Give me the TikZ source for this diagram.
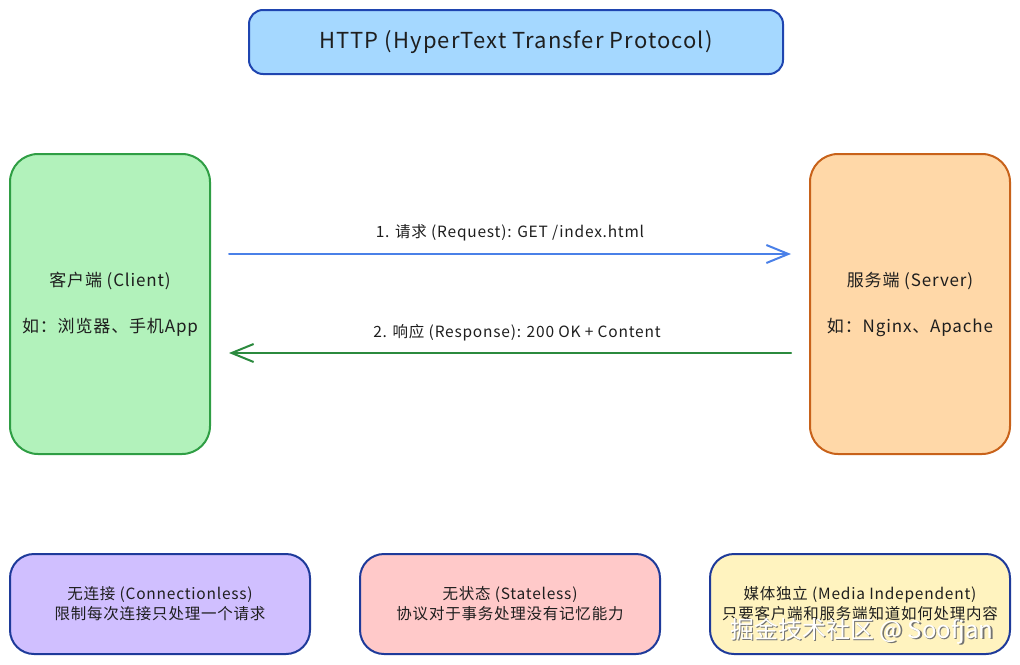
\documentclass[tikz,border=0pt]{standalone}
\usepackage{fontspec}
\setmainfont[LetterSpace=5]{Noto Sans CJK SC}
\newfontfamily\wmfont{Noto Sans CJK SC}
\usetikzlibrary{arrows.meta}
\definecolor{txt}{HTML}{1E1E1E}
\definecolor{titlefill}{HTML}{A5D8FF}
\definecolor{titledraw}{HTML}{1F45B0}
\definecolor{clientfill}{HTML}{B2F2BB}
\definecolor{clientdraw}{HTML}{2F9E44}
\definecolor{serverfill}{HTML}{FFD8A8}
\definecolor{serverdraw}{HTML}{C8621A}
\definecolor{boxdraw}{HTML}{1E3A9A}
\definecolor{purplefill}{HTML}{D0BFFF}
\definecolor{pinkfill}{HTML}{FFC9C9}
\definecolor{yellowfill}{HTML}{FFF3BF}
\definecolor{reqcol}{HTML}{4A80E8}
\definecolor{rescol}{HTML}{2B8A3E}
\tikzset{
  base/.style={line width=2pt, inner sep=0pt, text=txt, align=center},
  titlebox/.style={base, draw=titledraw, fill=titlefill, rounded corners=14pt,
    minimum width=534pt, minimum height=64pt, font=\fontsize{22}{26}\selectfont},
  endbox/.style={base, rounded corners=28pt, minimum width=200pt, minimum height=300pt,
    font=\fontsize{17}{46}\selectfont},
  featbox/.style={base, draw=boxdraw, rounded corners=24pt, minimum width=300pt,
    minimum height=100pt, font=\fontsize{15.5}{20}\selectfont},
  flow/.style={line width=2pt, line cap=round, -{Straight Barb[length=22pt,width=18pt,line width=2pt]}},
  flowlabel/.style={text=txt, font=\fontsize{15.5}{18}\selectfont, inner sep=0pt},
  wm/.style={font=\wmfont\fontsize{24}{28}\selectfont, inner sep=0pt}
}
\begin{document}
\begin{tikzpicture}[x=1pt,y=-1pt]
\useasboundingbox (0,0) rectangle (1020,664);
\node[titlebox] (title) at (516,42) {HTTP (HyperText Transfer Protocol)};
\node[endbox, draw=clientdraw, fill=clientfill] (client) at (110,304) {客户端 (Client)\\如：浏览器、手机App};
\node[endbox, draw=serverdraw, fill=serverfill] (server) at (910,304) {服务端 (Server)\\如：Nginx、Apache};
\coordinate (reqs) at (229,254);
\coordinate (reqe) at (791,254);
\coordinate (ress) at (791,353);
\coordinate (rese) at (229,353);
\draw[flow, draw=reqcol] (reqs) -- (reqe);
\draw[flow, draw=rescol] (ress) -- (rese);
\node[flowlabel] (reqlabel) at (510,233) {1. 请求 (Request): GET /index.html};
\node[flowlabel] (reslabel) at (517,333) {2. 响应 (Response): 200 OK + Content};
\node[featbox, fill=purplefill] (f1) at (160,604) {无连接 (Connectionless)\\限制每次连接只处理一个请求};
\node[featbox, fill=pinkfill] (f2) at (510,604) {无状态 (Stateless)\\协议对于事务处理没有记忆能力};
\node[featbox, fill=yellowfill] (f3) at (860,604) {媒体独立 (Media Independent)\\只要客户端和服务端知道如何处理内容};
\node[wm, text=black!55] (wmshadow) at (863.2,632.2) {掘金技术社区 @ Soofjan};
\node[wm, text=white] (wmark) at (862,631) {掘金技术社区 @ Soofjan};
\end{tikzpicture}
\end{document}
